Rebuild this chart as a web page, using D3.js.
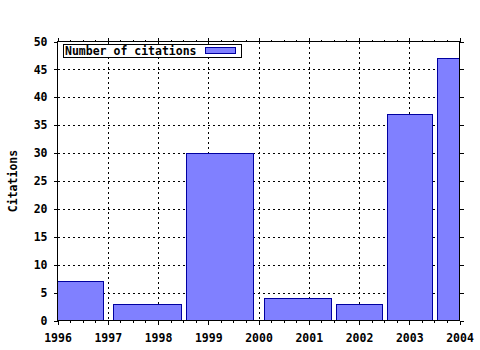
<!DOCTYPE html>
<html>
<head>
<meta charset="utf-8">
<script src="https://cdn.jsdelivr.net/npm/d3@7"></script>
<style>
  body { margin: 0; background: #fff; }
  text { font-family: "DejaVu Sans Mono", monospace; font-weight: bold; font-size: 11.5px; fill: #000; }
</style>
</head>
<body>
<div id="chart"></div>
<script>
// citations per period (period given as start / end year)
const periodStart = [1995.5, 1997.1, 1998.55, 2000.1, 2001.55, 2002.55, 2003.55];
const periodEnd   = [1996.9, 1998.45, 1999.9, 2001.45, 2002.45, 2003.45, 2004.45];
const citations   = [7, 3, 30, 4, 3, 37, 47];
const yearTicks   = [1996, 1997, 1998, 1999, 2000, 2001, 2002, 2003, 2004];
const citeTicks   = [0, 5, 10, 15, 20, 25, 30, 35, 40, 45, 50];
const seriesName  = "Number of citations";

const data = citations.map((c, i) => ({ x0: periodStart[i], x1: periodEnd[i], value: c }));

const width = 480, height = 350;
const plot = { left: 57.5, right: 459.5, top: 41.5, bottom: 320.5 };

const svg = d3.select('#chart').append('svg')
  .attr('width', width)
  .attr('height', height)
  .attr('shape-rendering', 'crispEdges');

const x = d3.scaleLinear().domain([1996, 2004]).range([plot.left, plot.right]);
const y = d3.scaleLinear().domain([0, 50]).range([plot.bottom, plot.top]);

svg.append('clipPath').attr('id', 'plot')
  .append('rect')
  .attr('x', plot.left).attr('y', plot.top)
  .attr('width', plot.right - plot.left).attr('height', plot.bottom - plot.top);

// grid
const grid = svg.append('g').attr('stroke', '#000').attr('stroke-dasharray', '2,3');
grid.selectAll('.gx').data(yearTicks.slice(1, -1)).enter().append('line')
  .attr('x1', d => Math.round(x(d)) + 0.5).attr('x2', d => Math.round(x(d)) + 0.5)
  .attr('y1', plot.top).attr('y2', plot.bottom);
grid.selectAll('.gy').data(citeTicks.slice(1, -1)).enter().append('line')
  .attr('y1', d => Math.round(y(d)) + 0.5).attr('y2', d => Math.round(y(d)) + 0.5)
  .attr('x1', plot.left).attr('x2', plot.right);

// bars
svg.append('g').attr('clip-path', 'url(#plot)')
  .selectAll('rect').data(data).enter().append('rect')
  .attr('x', d => Math.round(x(d.x0)) + 0.5)
  .attr('y', d => Math.round(y(d.value)) + 0.5)
  .attr('width', d => Math.round(x(d.x1)) - Math.round(x(d.x0)))
  .attr('height', d => Math.round(y(0)) - Math.round(y(d.value)))
  .attr('fill', '#8080ff')
  .attr('stroke', '#0000a0');

// axes
svg.append('g').attr('transform', 'translate(0,' + plot.bottom + ')')
  .call(d3.axisBottom(x).tickValues(yearTicks).tickFormat(d3.format('d')).tickSize(4).tickPadding(9));
svg.append('g').attr('transform', 'translate(0,' + plot.top + ')')
  .call(d3.axisTop(x).tickValues(yearTicks).tickFormat('').tickSize(4));

// minor x ticks (quarter years)
const minor = d3.range(1996, 2004, 0.25).filter(v => v % 1 !== 0);
svg.append('g').attr('transform', 'translate(0,' + plot.bottom + ')')
  .call(d3.axisBottom(x).tickValues(minor).tickFormat('').tickSize(2));
svg.append('g').attr('transform', 'translate(0,' + plot.top + ')')
  .call(d3.axisTop(x).tickValues(minor).tickFormat('').tickSize(2));

svg.append('g').attr('transform', 'translate(' + plot.left + ',0)')
  .call(d3.axisLeft(y).tickValues(citeTicks).tickSize(4).tickPadding(6));
svg.append('g').attr('transform', 'translate(' + plot.right + ',0)')
  .call(d3.axisRight(y).tickValues(citeTicks).tickFormat('').tickSize(4));

svg.selectAll('.domain').remove();
svg.selectAll('.tick line').attr('stroke', '#000');
svg.selectAll('.tick text').attr('fill', '#000');
svg.selectAll('g[font-family]').attr('font-family', null).attr('font-size', null);

// border
svg.append('rect')
  .attr('x', plot.left).attr('y', plot.top)
  .attr('width', plot.right - plot.left).attr('height', plot.bottom - plot.top)
  .attr('fill', 'none').attr('stroke', '#000');

// legend
const legend = svg.append('g');
legend.append('rect')
  .attr('x', 63.5).attr('y', 44.5).attr('width', 178).attr('height', 13)
  .attr('fill', '#fff').attr('stroke', '#000');
legend.append('text').attr('x', 65).attr('y', 55).text(seriesName);
legend.append('rect')
  .attr('x', 205.5).attr('y', 47.5).attr('width', 30).attr('height', 6)
  .attr('fill', '#8080ff').attr('stroke', '#0000a0');

// y label
svg.append('text')
  .attr('transform', 'translate(17,181) rotate(-90)')
  .attr('text-anchor', 'middle')
  .text('Citations');
</script>
</body>
</html>
